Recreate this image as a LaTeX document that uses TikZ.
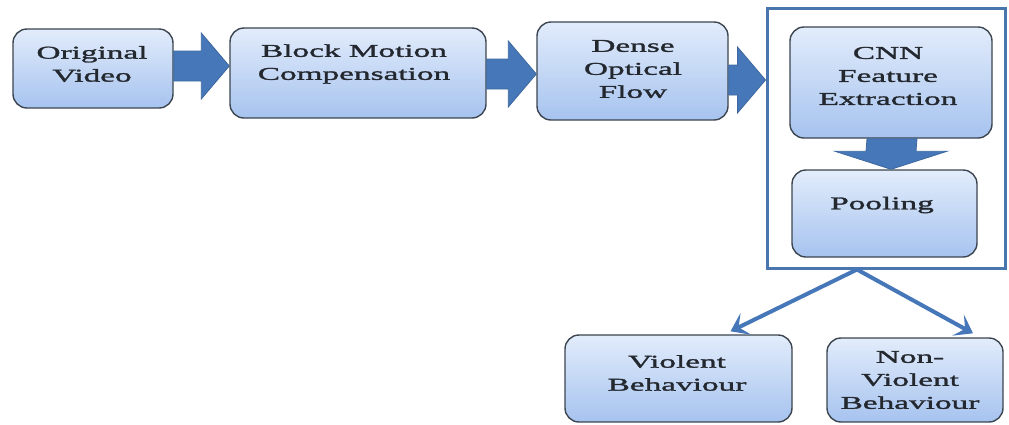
\documentclass[tikz,border=0pt]{standalone}
\usepackage{fontspec}
\setmainfont{Liberation Serif}[FakeStretch=1.85, FakeBold=1.6]
\usetikzlibrary{calc,arrows.meta}
\definecolor{boxtop}{HTML}{E2ECFB}
\definecolor{boxbot}{HTML}{A6C3EF}
\definecolor{boxedge}{HTML}{3C4550}
\definecolor{arrowblue}{HTML}{4677B8}
\definecolor{arrowedge}{HTML}{3D689F}
\definecolor{framecol}{HTML}{4A76AE}
\definecolor{txt}{HTML}{23272E}
\tikzset{
  box/.style={draw=boxedge, line width=1.4pt, rounded corners=14pt,
    top color=boxtop, bottom color=boxbot, inner sep=0pt},
  lbl/.style={font=\fontsize{18}{23}\selectfont, text=txt, align=center, inner sep=0pt},
  blockarrow/.style={fill=arrowblue, draw=arrowedge, line width=0.8pt, line join=miter},
  thinarrow/.style={draw=arrowblue, line width=4pt,
    -{Stealth[length=17pt,width=24pt,inset=8pt]}},
  frame/.style={draw=framecol, line width=3pt}
}
\newcommand\rarrow[3]{%
  \coordinate (#1s) at (#1.east |- 0,#3);
  \coordinate (#1e) at (#2.west |- 0,#3);
  \path[blockarrow] ($(#1s)+(0,-15)$) -- ($(#1e)+(-28,-15)$) -- ($(#1e)+(-28,-33)$)
    -- (#1e) -- ($(#1e)+(-28,33)$) -- ($(#1e)+(-28,15)$) -- ($(#1s)+(0,15)$) -- cycle;}
\begin{document}
\begin{tikzpicture}[x=1pt,y=-1pt]
\useasboundingbox (0,0) rectangle (1009,424);
% frame
\node[frame, minimum width=238pt, minimum height=260pt, inner sep=0pt] (fr) at (886,138) {};
% boxes
\node[box, minimum width=160pt, minimum height=79pt] (ov) at (93,68.5) {};
\node[box, minimum width=256pt, minimum height=90pt] (bmc) at (358,73) {};
\node[box, minimum width=191pt, minimum height=98pt] (dof) at (632.5,71) {};
\node[box, minimum width=202pt, minimum height=111pt] (cnn) at (891,82.5) {};
\node[box, minimum width=185pt, minimum height=87pt] (pool) at (884.5,213.5) {};
\node[box, minimum width=227pt, minimum height=87pt] (vb) at (678.5,378.5) {};
\node[box, minimum width=176pt, minimum height=84pt] (nvb) at (915,380) {};
% labels
\node[lbl] (tov) at (92,64) {Original\\Video};
\node[lbl] (tbmc) at (354,64) {Block Motion\\Compensation};
\node[lbl] (tdof) at (633,69) {Dense\\Optical\\Flow};
\node[lbl] (tcnn) at (888,76) {CNN\\Feature\\Extraction};
\node[lbl] (tpool) at (882,205) {Pooling};
\node[lbl] (tvb) at (677,373) {Violent\\Behaviour};
\node[lbl] (tnvb) at (910,380) {Non-\\Violent\\Behaviour};
% block arrows
\rarrow{ov}{bmc}{66}
\rarrow{bmc}{dof}{74}
\rarrow{dof}{fr}{80}
% down arrow
\coordinate (ds) at (cnn.south -| 892,0);
\coordinate (de) at (pool.north -| 891,0);
\path[blockarrow] ($(ds)+(-25,0)$) -- ($(de)+(-25,-18)$) -- ($(de)+(-56,-18)$) -- (de)
  -- ($(de)+(56,-18)$) -- ($(de)+(25,-18)$) -- ($(ds)+(25,0)$) -- cycle;
% output arrows
\coordinate (apex) at (fr.south -| 857,0);
\draw[thinarrow] (apex) -- ($(vb.north)+(52,-3)$);
\draw[thinarrow] (apex) -- ($(nvb.north)+(58,-4)$);
\end{tikzpicture}
\end{document}
